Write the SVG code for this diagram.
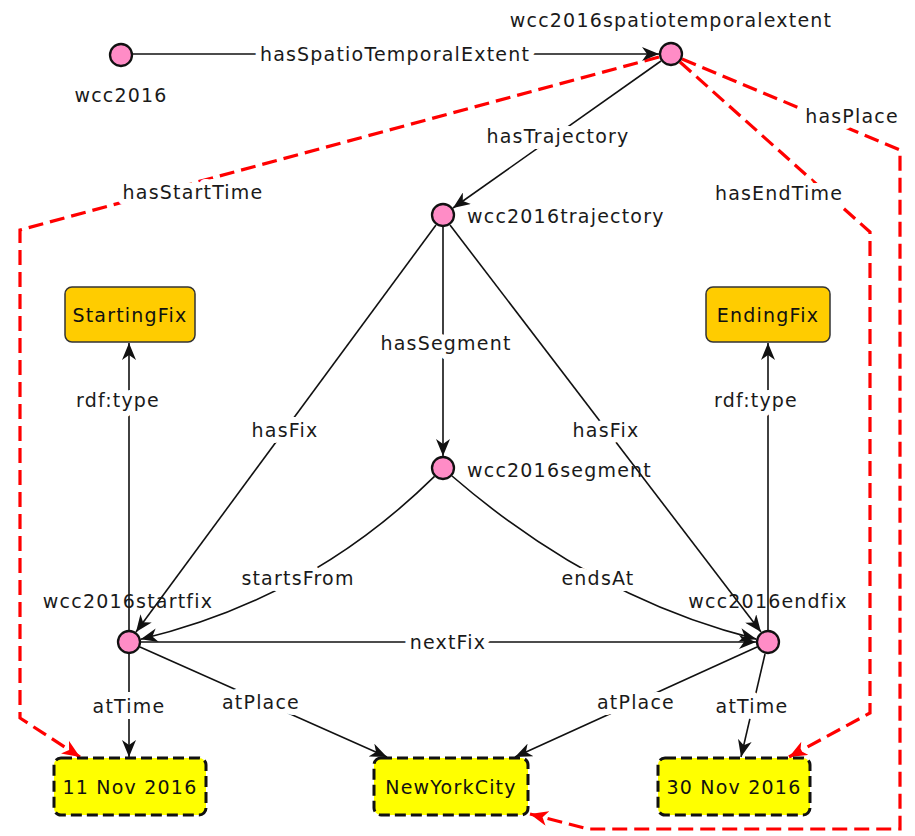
<svg xmlns="http://www.w3.org/2000/svg" width="915" height="836" viewBox="0 0 915 836">
<defs>
<style>
text{font-family:"DejaVu Sans","Liberation Sans",sans-serif;font-size:19px;letter-spacing:1.2px;fill:#1a1a1a}
.el{text-anchor:middle;stroke:#fff;stroke-width:12px;stroke-linejoin:round;paint-order:stroke}
.mid{text-anchor:middle}
.edge{fill:none;stroke:#111;stroke-width:1.6}
.red{fill:none;stroke:#f00;stroke-width:3.2;stroke-dasharray:15 7}
.node{fill:#ff8cc6;stroke:#111;stroke-width:2.3}
.cls{fill:#ffcc00;stroke:#333;stroke-width:1.5}
.lit{fill:#ffff00;stroke:#111;stroke-width:3;stroke-dasharray:11 5}
.lbl{fill:#111}
</style>
<marker id="ab" viewBox="0 0 17 14" refX="17" refY="7" markerWidth="17" markerHeight="14" markerUnits="userSpaceOnUse" orient="auto">
<path d="M0,0 L17,7 L0,14 L5,7 Z" fill="#111"/>
</marker>
<marker id="ar" viewBox="0 0 18 15" refX="18" refY="7.5" markerWidth="18" markerHeight="15" markerUnits="userSpaceOnUse" orient="auto">
<path d="M0,0 L18,7.5 L0,15 L5,7.5 Z" fill="#f00"/>
</marker>
</defs>
<rect width="915" height="836" fill="#fff"/>
<g id="connectors">
<path class="red" d="M659,57 L20,230 L20,718 L80,757" marker-end="url(#ar)"/>
<path class="red" d="M680,62 L870,232 L870,713 L789,757" marker-end="url(#ar)"/>
<path class="red" d="M682,59 L900,150 L900,829 L588,829 L530,814" marker-end="url(#ar)"/>
<path class="edge" d="M132,54 L659,54" marker-end="url(#ab)"/>
<path class="edge" d="M661,61 L453,208" marker-end="url(#ab)"/>
<path class="edge" d="M436,225 L136,632" marker-end="url(#ab)"/>
<path class="edge" d="M450,225 L761,632" marker-end="url(#ab)"/>
<path class="edge" d="M443,227 L443,456" marker-end="url(#ab)"/>
<path class="edge" d="M434.5,476.4 Q310,599 140.7,639.2" marker-end="url(#ab)"/>
<path class="edge" d="M452,476 Q594.5,599 756.3,639.1" marker-end="url(#ab)"/>
<path class="edge" d="M141,642 L756,642" marker-end="url(#ab)"/>
<path class="edge" d="M129,630 L129,343" marker-end="url(#ab)"/>
<path class="edge" d="M768,630 L768,343" marker-end="url(#ab)"/>
<path class="edge" d="M129,654 L129,757" marker-end="url(#ab)"/>
<path class="edge" d="M140,647 L387,757" marker-end="url(#ab)"/>
<path class="edge" d="M757,647 L515,757" marker-end="url(#ab)"/>
<path class="edge" d="M765,654 L741,757" marker-end="url(#ab)"/>
<text class="el" x="395" y="61">hasSpatioTemporalExtent</text>
<text class="el" x="558" y="143">hasTrajectory</text>
<text class="el" x="193" y="199">hasStartTime</text>
<text class="el" x="779" y="200">hasEndTime</text>
<text class="el" x="852" y="123">hasPlace</text>
<text class="el" x="446" y="350">hasSegment</text>
<text class="el" x="285" y="437">hasFix</text>
<text class="el" x="606" y="437">hasFix</text>
<text class="el" x="118" y="407">rdf:type</text>
<text class="el" x="756" y="407">rdf:type</text>
<text class="el" x="298" y="585">startsFrom</text>
<text class="el" x="598" y="585">endsAt</text>
<text class="el" x="448" y="649">nextFix</text>
<text class="el" x="129" y="713">atTime</text>
<text class="el" x="261" y="709">atPlace</text>
<text class="el" x="636" y="709">atPlace</text>
<text class="el" x="752" y="713">atTime</text>
</g>
<g id="wcc2016">
<circle class="node" cx="121" cy="55" r="11"/>
<text class="mid" x="121" y="102">wcc2016</text>
</g>
<g id="wcc2016spatiotemporalextent">
<circle class="node" cx="671" cy="54" r="11"/>
<text class="mid" x="671" y="27">wcc2016spatiotemporalextent</text>
</g>
<g id="wcc2016trajectory">
<circle class="node" cx="443" cy="215" r="11"/>
<text x="467" y="223">wcc2016trajectory</text>
</g>
<g id="wcc2016segment">
<circle class="node" cx="443" cy="468" r="11"/>
<text x="467" y="477">wcc2016segment</text>
</g>
<g id="wcc2016startfix">
<circle class="node" cx="129" cy="642" r="11"/>
<text class="mid" x="128" y="608">wcc2016startfix</text>
</g>
<g id="wcc2016endfix">
<circle class="node" cx="768" cy="642" r="11"/>
<text class="mid" x="768" y="608">wcc2016endfix</text>
</g>
<g id="StartingFix">
<rect class="cls" x="65" y="287" width="130" height="55" rx="7"/>
<text class="mid lbl" x="130" y="322">StartingFix</text>
</g>
<g id="EndingFix">
<rect class="cls" x="706" y="287" width="124" height="55" rx="7"/>
<text class="mid lbl" x="768" y="322">EndingFix</text>
</g>
<g id="lit11Nov2016">
<rect class="lit" x="54" y="758" width="152" height="57" rx="7"/>
<text class="mid lbl" x="130" y="794">11 Nov 2016</text>
</g>
<g id="NewYorkCity">
<rect class="lit" x="374" y="758" width="154" height="57" rx="7"/>
<text class="mid lbl" x="451" y="794">NewYorkCity</text>
</g>
<g id="lit30Nov2016">
<rect class="lit" x="658" y="758" width="152" height="57" rx="7"/>
<text class="mid lbl" x="734" y="794">30 Nov 2016</text>
</g>
</svg>
